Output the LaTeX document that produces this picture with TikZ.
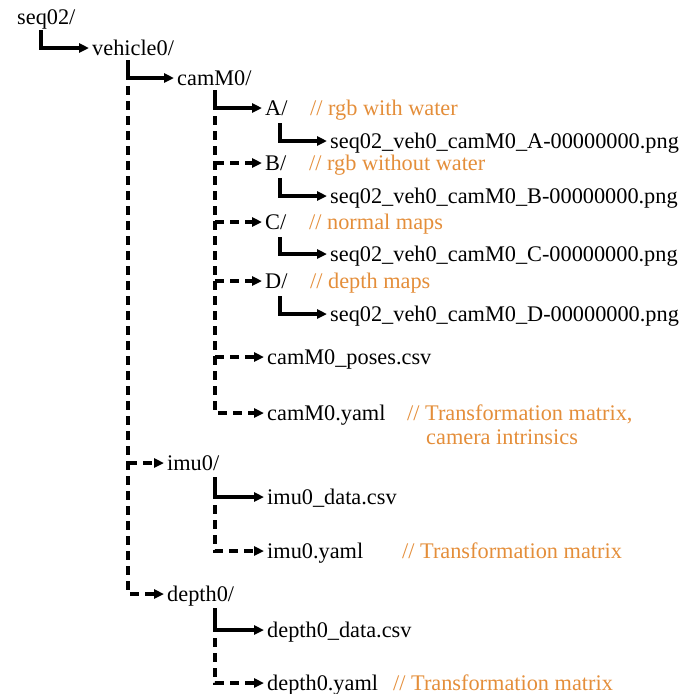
\documentclass[tikz,border=0pt]{standalone}
\usepackage{fontspec}
\setmainfont{Liberation Serif}
\usetikzlibrary{arrows.meta,calc}
\definecolor{cmt}{RGB}{228,142,58}
\begin{document}
\begin{tikzpicture}[x=1pt,y=-1pt,
 item/.style={anchor=west,inner sep=0pt,font=\fontsize{22.3}{26}\selectfont,text height=17pt,text depth=3pt},
 note/.style={item,text=cmt},
 sarr/.style={line width=3.2pt,-{Triangle[length=10pt,width=9pt]}},
 darr/.style={sarr,dash pattern=on 9pt off 6pt},
 ]
\useasboundingbox (0,0) rectangle (694,694);
% nodes
\node[item] (seq) at (17,17) {seq02/};
\node[item] (veh) at (92,48) {vehicle0/};
\node[item] (cam) at (177,78) {camM0/};
\node[item] (A) at (265,108) {A/};
\node[note] (nA) at (310,108) {// rgb with water};
\node[item] (fA) at (330,141) {seq02\_veh0\_camM0\_A-00000000.png};
\node[item] (B) at (265,163) {B/};
\node[note] (nB) at (309,163) {// rgb without water};
\node[item] (fB) at (330,196) {seq02\_veh0\_camM0\_B-00000000.png};
\node[item] (C) at (265,222) {C/};
\node[note] (nC) at (309,222) {// normal maps};
\node[item] (fC) at (330,254) {seq02\_veh0\_camM0\_C-00000000.png};
\node[item] (D) at (265,281) {D/};
\node[note] (nD) at (310,281) {// depth maps};
\node[item] (fD) at (330,314) {seq02\_veh0\_camM0\_D-00000000.png};
\node[item] (poses) at (267,357) {camM0\_poses.csv};
\node[item] (yaml) at (267,413) {camM0.yaml};
\node[note] (nY1) at (407,413) {// Transformation matrix,};
\node[note] (nY2) at (426,437) {camera intrinsics};
\node[item] (imu) at (167,463) {imu0/};
\node[item] (imud) at (267,497) {imu0\_data.csv};
\node[item] (imuy) at (267,551) {imu0.yaml};
\node[note] (nI) at (402,551) {// Transformation matrix};
\node[item] (dep) at (167,594) {depth0/};
\node[item] (depd) at (267,630) {depth0\_data.csv};
\node[item] (depy) at (267,683) {depth0.yaml};
\node[note] (nDp) at (393,683) {// Transformation matrix};
% trunk coordinates
\coordinate (t1) at ($(seq.west)+(24,13)$);
\coordinate (t2) at ($(veh.west)+(36,12)$);
\coordinate (t3) at ($(cam.west)+(38,12)$);
\coordinate (tA) at ($(A.west)+(15,15)$);
\coordinate (tB) at ($(B.west)+(15,15)$);
\coordinate (tC) at ($(C.west)+(15,15)$);
\coordinate (tD) at ($(D.west)+(15,15)$);
\coordinate (tI) at ($(imu.west)+(48,14)$);
\coordinate (tP) at ($(dep.west)+(48,14)$);
% connectors
\draw[sarr] (t1) |- ([xshift=-3pt]veh.west);
\draw[sarr] (t2) |- ([xshift=-3pt]cam.west);
\draw[darr] ($(t2|-cam.west)+(0,8)$) |- ([xshift=-3pt]dep.west);
\draw[darr] (t2|-imu.west) -- ([xshift=-3pt]imu.west);
\draw[sarr] (t3) |- ([xshift=-3pt]A.west);
\draw[darr] ($(t3|-A.west)+(0,8)$) |- ([xshift=-3pt]yaml.west);
\draw[darr] (t3|-B.west) -- ([xshift=-3pt]B.west);
\draw[darr] (t3|-C.west) -- ([xshift=-3pt]C.west);
\draw[darr] (t3|-D.west) -- ([xshift=-3pt]D.west);
\draw[darr] (t3|-poses.west) -- ([xshift=-3pt]poses.west);
\draw[sarr] (tA) |- ([xshift=-3pt]fA.west);
\draw[sarr] (tB) |- ([xshift=-3pt]fB.west);
\draw[sarr] (tC) |- ([xshift=-3pt]fC.west);
\draw[sarr] (tD) |- ([xshift=-3pt]fD.west);
\draw[sarr] (tI) |- ([xshift=-3pt]imud.west);
\draw[darr] ($(tI|-imud.west)+(0,8)$) |- ([xshift=-3pt]imuy.west);
\draw[sarr] (tP) |- ([xshift=-3pt]depd.west);
\draw[darr] ($(tP|-depd.west)+(0,8)$) |- ([xshift=-3pt]depy.west);
\end{tikzpicture}
\end{document}
